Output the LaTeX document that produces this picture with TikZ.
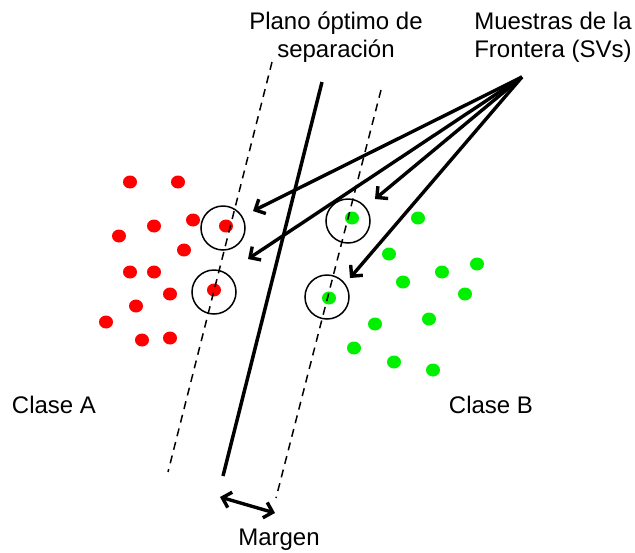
\documentclass[tikz,border=0pt]{standalone}
\usepackage{fontspec}
\setmainfont{Liberation Sans}
\usetikzlibrary{arrows.meta,shapes.geometric}
\tikzset{
  reddot/.style={ellipse, fill={rgb,255:red,255;green,0;blue,0}, inner sep=0pt, minimum width=14pt, minimum height=13pt},
  greendot/.style={ellipse, fill={rgb,255:red,0;green,240;blue,0}, inner sep=0pt, minimum width=14pt, minimum height=13pt},
  svring/.style={circle, draw, line width=1.5pt, minimum size=44pt, inner sep=0pt},
  margin line/.style={line width=1.5pt, dash pattern=on 8pt off 6pt},
  sep line/.style={line width=3.5pt},
  svarrow/.style={line width=3.4pt, -{Straight Barb[length=8pt,width=16pt]}},
  label text/.style={font=\fontsize{24}{28}\selectfont, align=center, inner sep=0pt},
}
\begin{document}
\begin{tikzpicture}[x=1pt,y=-1pt]
\useasboundingbox (0,0) rectangle (635,552);
% red dots
\foreach \i/\p in {1/{(130,182)},2/{(178,182)},3/{(193,220)},4/{(154,226)},5/{(119,236)},6/{(184,250)},7/{(130,272)},8/{(154,272)},9/{(170,294)},10/{(136,306)},11/{(106,322)},12/{(142,340)},13/{(170,338)}}
  \node[reddot] (r\i) at \p {};
\node[reddot] (rsv1) at (226,226) {};
\node[reddot] (rsv2) at (214,290) {};
% green dots
\foreach \i/\p in {1/{(418,218)},2/{(389,254)},3/{(442,272)},4/{(477,264)},5/{(403,282)},6/{(465,294)},7/{(375,324)},8/{(429,319)},9/{(354,348)},10/{(394,362)},11/{(433,370)}}
  \node[greendot] (g\i) at \p {};
\node[greendot] (gsv1) at (352,218) {};
\node[greendot] (gsv2) at (329,298) {};
% rings
\node[svring] (c1) at (223,228) {};
\node[svring] (c2) at (214,292) {};
\node[svring] (c3) at (348,221) {};
\node[svring] (c4) at (327,297) {};
% lines
\coordinate (la) at (272,62);
\coordinate (lb) at (168,472);
\coordinate (ra) at (381,90);
\coordinate (rb) at (276,498);
\coordinate (sa) at (322,82);
\coordinate (sb) at (223,476);
\draw[margin line] (la) -- (lb);
\draw[margin line] (ra) -- (rb);
\draw[sep line] (sa) -- (sb);
% arrows
\coordinate (sv) at (522,77);
\coordinate (t1) at (253,211);
\coordinate (t2) at (248,259);
\coordinate (t3) at (375,199);
\coordinate (t4) at (350,278);
\draw[svarrow] (sv) -- (t1);
\draw[svarrow] (sv) -- (t2);
\draw[svarrow] (sv) -- (t3);
\draw[svarrow] (sv) -- (t4);
% margin arrow
\coordinate (m1) at (220,497);
\coordinate (m2) at (275,513);
\draw[line width=3.4pt, {Straight Barb[length=8pt,width=16pt]}-{Straight Barb[length=8pt,width=16pt]}] (m1) -- (m2);
% texts
\node[label text] (plano) at (336,37) {Plano óptimo de\\separación};
\node[label text] (muestras) at (553,37) {Muestras de la\\Frontera (SVs)};
\node[label text] (claseA) at (54,405) {Clase A};
\node[label text] (claseB) at (491,405) {Clase B};
\node[label text] (margen) at (279,540) {Margen};
\end{tikzpicture}
\end{document}
